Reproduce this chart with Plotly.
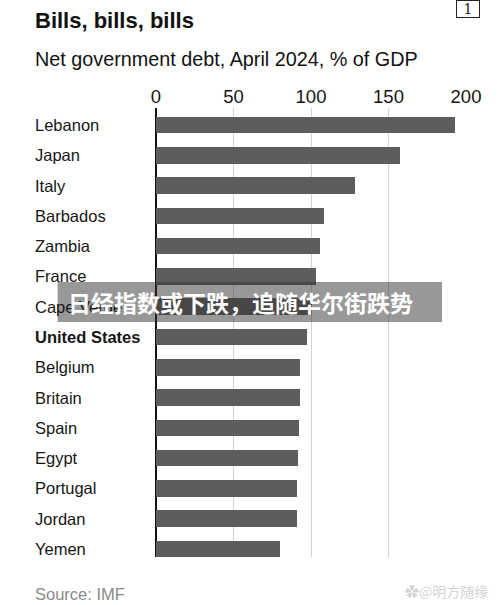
import plotly.graph_objects as go

countries = ["Lebanon", "Japan", "Italy", "Barbados", "Zambia", "France", "Cape Verde",
             "United States", "Belgium", "Britain", "Spain", "Egypt", "Portugal", "Jordan", "Yemen"]
debt = [193, 157.5, 128.7, 108.1, 105.5, 103.2, 100.6, 97.4, 93.1, 92.9, 92.5, 91.6, 90.7, 90.7, 79.8]
x_ticks = [0, 50, 100, 150, 200]
highlight = "United States"

W_PX, H_PX = 500, 605
L, R, T, B = 155.5, 34, 108, 48
PW, PH = W_PX - L - R, H_PX - T - B

def px(x):
    return (x - L) / PW

def py(y):
    return 1 - (y - T) / PH

FONT = "Liberation Sans"
BAR = "#5c5d5f"

fig = go.Figure(go.Bar(
    x=debt, y=countries, orientation="h",
    marker=dict(color=BAR, line=dict(width=0)),
    width=0.545,
))

ann = []
for c in countries:
    txt = f"<b>{c}</b>" if c == highlight else c
    ann.append(dict(x=px(32.5), xref="paper", y=c, yref="y", text=txt, showarrow=False,
                    xanchor="left", yanchor="middle",
                    font=dict(family=FONT, size=16.5, color="#161616")))

ann += [
    dict(x=px(32), xref="paper", y=py(21), yref="paper", text="<b>Bills, bills, bills</b>",
         showarrow=False, xanchor="left", yanchor="middle",
         font=dict(family=FONT, size=22, color="#111")),
    dict(x=px(32), xref="paper", y=py(59.5), yref="paper",
         text="Net government debt, April 2024, % of GDP",
         showarrow=False, xanchor="left", yanchor="middle",
         font=dict(family=FONT, size=19.8, color="#111")),
    dict(x=px(32), xref="paper", y=py(593.5), yref="paper", text="Source: IMF",
         showarrow=False, xanchor="left", yanchor="middle",
         font=dict(family=FONT, size=16.5, color="#8a8a8a")),
    dict(x=px(468.5), xref="paper", y=py(9), yref="paper", text="1",
         showarrow=False, xanchor="center", yanchor="middle",
         bordercolor="#222", borderwidth=1, borderpad=1, width=20, height=14,
         font=dict(family="DejaVu Serif", size=14, color="#222")),
    dict(x=px(65), xref="paper", y=py(302), yref="paper",
         text="<b>日经指数或下跌，追随华尔街跌势</b>",
         showarrow=False, xanchor="left", yanchor="middle",
         font=dict(family="Noto Sans CJK SC", size=23, color="white")),
    dict(x=px(490), xref="paper", y=py(591), yref="paper", text="✿@明方随缘",
         showarrow=False, xanchor="right", yanchor="middle",
         font=dict(family="Noto Sans CJK SC", size=14, color="#d4d4d4")),
]

shapes = [
    dict(type="rect", xref="paper", yref="paper", x0=px(57), x1=px(442), y0=py(322), y1=py(282),
         fillcolor="rgba(50,50,50,0.5)", line=dict(width=0), layer="above"),
]

fig.update_layout(
    width=W_PX, height=H_PX,
    margin=dict(l=L, r=R, t=T, b=B, pad=0),
    paper_bgcolor="white", plot_bgcolor="white",
    showlegend=False,
    annotations=ann,
    shapes=shapes,
    bargap=0,
)
fig.update_xaxes(
    side="top", range=[0, 200], tickvals=x_ticks, ticks="",
    showgrid=True, gridcolor="#d3d3d3", gridwidth=1,
    zeroline=True, zerolinecolor="#111", zerolinewidth=2,
    showline=False, tickfont=dict(family=FONT, size=18.5, color="#161616"),
    fixedrange=True,
)
fig.update_yaxes(
    type="category", categoryorder="array", categoryarray=countries,
    range=[14.264, -0.56], showticklabels=False, showgrid=False,
    zeroline=False, showline=False, fixedrange=True,
)

fig.write_html("out.html")
